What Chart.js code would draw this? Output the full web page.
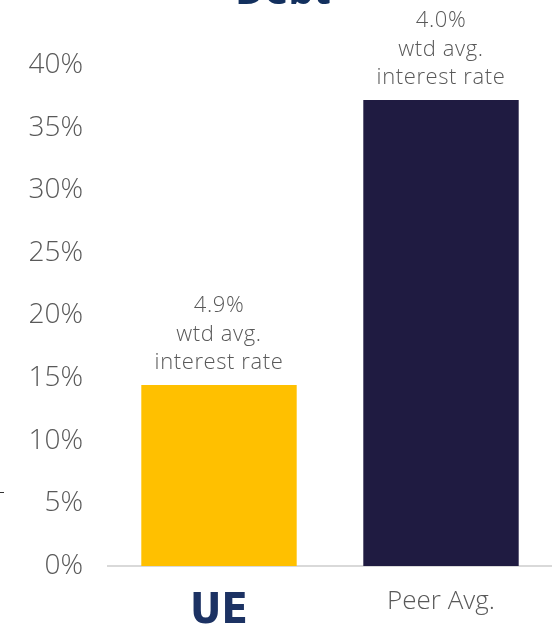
<!DOCTYPE html>
<html>
<head>
<meta charset="utf-8">
<script src="https://cdn.jsdelivr.net/npm/chart.js@4.4.0/dist/chart.umd.min.js"></script>
<style>
    html, body { margin: 0; padding: 0; background: #fff; }
    #wrap { width: 552px; height: 624px; position: relative; }
</style>
</head>
<body>
<div id="wrap"><canvas id="debtChart"></canvas></div>
<script>
// data
const categories = ['UE', 'Peer Avg.'];
const debtShare = [14.45, 37.2];
const rateLabels = ['4.9%', '4.0%'];
const barColors = ['#FFC000', '#1F1B41'];
const yTicks = [0, 5, 10, 15, 20, 25, 30, 35, 40];

const greyText = '#595959';
const fontName = '"Open Sans", Roboto, sans-serif';

// rate text above each bar
const barNotes = {
    id: 'barNotes',
    afterDatasetsDraw(chart) {
        const ctx = chart.ctx;
        const meta = chart.getDatasetMeta(0);
        ctx.save();
        ctx.fillStyle = greyText;
        ctx.textAlign = 'center';
        ctx.textBaseline = 'middle';
        ctx.font = '300 22px ' + fontName;
        ctx.letterSpacing = '0.6px';
        meta.data.forEach((bar, i) => {
            const lines = [rateLabels[i], 'wtd avg.', 'interest rate'];
            lines.forEach((txt, j) => {
                ctx.fillText(txt, bar.x, bar.y - 79 + j * 28.5);
            });
        });
        ctx.restore();
    }
};

// cut off title + small stray mark at left
const extras = {
    id: 'extras',
    afterDraw(chart) {
        const ctx = chart.ctx;
        ctx.save();
        ctx.fillStyle = '#13305E';
        ctx.textAlign = 'center';
        ctx.textBaseline = 'alphabetic';
        ctx.font = 'bold 40px ' + fontName;
        ctx.fillText('Debt', 283, 4);
        ctx.strokeStyle = '#333';
        ctx.lineWidth = 1;
        ctx.beginPath();
        ctx.moveTo(0, 492.5);
        ctx.lineTo(4, 492.5);
        ctx.stroke();
        ctx.restore();
    }
};

const ctx = document.getElementById('debtChart');

new Chart(ctx, {
    type: 'bar',
    data: {
        labels: categories,
        datasets: [{
            data: debtShare,
            backgroundColor: barColors,
            borderWidth: 0,
            categoryPercentage: 1,
            barPercentage: 0.7
        }]
    },
    options: {
        responsive: true,
        maintainAspectRatio: false,
        animation: false,
        layout: { padding: { top: 65, right: 0, left: 0, bottom: 0 } },
        plugins: {
            legend: { display: false },
            tooltip: { enabled: false }
        },
        scales: {
            x: {
                grid: { display: false },
                border: { display: true, color: '#D9D9D9', width: 2 },
                ticks: {
                    padding: 12,
                    color: c => c.index === 0 ? '#1C3263' : greyText,
                    font: c => c.index === 0
                        ? { family: '"DejaVu Sans Condensed", "DejaVu Sans", sans-serif', size: 43, weight: 'bold' }
                        : { family: fontName, size: 26, weight: 300 }
                },
                afterFit: scale => { scale.height = 58; }
            },
            y: {
                min: 0,
                max: 40,
                grid: { display: false },
                border: { display: false },
                afterBuildTicks: scale => {
                    scale.ticks = yTicks.map(v => ({ value: v }));
                },
                ticks: {
                    padding: 17,
                    color: greyText,
                    font: { family: fontName, size: 28, weight: 300 },
                    callback: v => v + '%'
                },
                afterFit: scale => { scale.width = 108; }
            }
        }
    },
    plugins: [barNotes, extras]
});
</script>
</body>
</html>
